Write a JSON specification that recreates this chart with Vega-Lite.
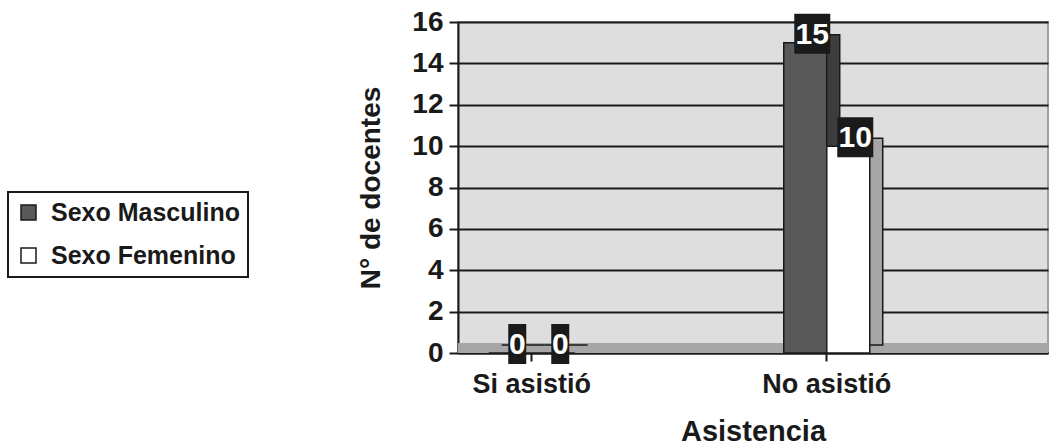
{
  "$schema": "https://vega.github.io/schema/vega-lite/v6.json",
  "width": 590,
  "height": 331,
  "autosize": {"type": "none"},
  "padding": {"left": 458, "top": 22, "right": 4, "bottom": 94},
  "background": "white",
  "config": {
    "font": "Liberation Sans",
    "view": {"fill": "#dedede", "stroke": "#a0a0a0", "strokeWidth": 2},
    "axis": {"labelFontWeight": "bold", "titleFontWeight": "bold", "labelColor": "#1a1a1a", "titleColor": "#1a1a1a", "domainColor": "#1a1a1a", "tickColor": "#1a1a1a", "domainWidth": 2, "tickWidth": 2},
    "axisY": {"labelFontSize": 28, "titleFontSize": 28, "tickSize": 9, "labelPadding": 6, "titlePadding": 26, "gridColor": "#1a1a1a", "gridWidth": 2},
    "axisX": {"labelFontSize": 27, "titleFontSize": 29, "tickSize": 8, "labelPadding": 10, "titlePadding": 20, "labelAngle": 0, "grid": false, "tickOffset": 220},
    "legend": {"labelFontSize": 25, "labelFontWeight": "bold", "labelColor": "#1a1a1a", "labelLimit": 0, "symbolType": "square", "symbolSize": 225, "symbolStrokeColor": "#1a1a1a", "symbolStrokeWidth": 1.5, "strokeColor": "#1a1a1a", "strokeWidth": 2, "padding": 8, "rowPadding": 17, "labelOffset": 10, "fillColor": "white"}
  },
  "data": {"values": [
    {"asistencia": "Si asistió", "sexo": "Sexo Masculino", "n": 0},
    {"asistencia": "Si asistió", "sexo": "Sexo Femenino", "n": 0},
    {"asistencia": "No asistió", "sexo": "Sexo Masculino", "n": 15},
    {"asistencia": "No asistió", "sexo": "Sexo Femenino", "n": 10}
  ]},
  "layer": [
    {
      "mark": {"type": "rule", "color": "#a6a6a6", "strokeWidth": 10, "yOffset": -5},
      "encoding": {
        "y": {"datum": 0, "type": "quantitative", "scale": {"domain": [0, 16], "nice": false}, "title": "N° de docentes"}
      }
    },
    {
      "mark": {"type": "bar", "stroke": "#1a1a1a", "strokeWidth": 1.5, "yOffset": -8, "y2Offset": -8},
      "encoding": {
        "x": {"field": "asistencia", "type": "nominal", "sort": ["Si asistió", "No asistió"], "scale": {"paddingInner": 0.5, "paddingOuter": 0.25, "align": 0}, "title": "Asistencia"},
        "xOffset": {"field": "sexo", "type": "nominal", "sort": ["Sexo Masculino", "Sexo Femenino"], "scale": {"type": "band", "paddingInner": 0, "paddingOuter": 0.715, "align": 0.711}},
        "y": {"field": "n", "type": "quantitative", "scale": {"domain": [0, 16], "nice": false}, "title": "N° de docentes"},
        "fill": {"condition": {"test": "datum.sexo === 'Sexo Masculino'", "value": "#3d3d3d"}, "value": "#a6a6a6"}
      }
    },
    {
      "mark": {"type": "bar", "stroke": "#1a1a1a", "strokeWidth": 1.5},
      "encoding": {
        "x": {"field": "asistencia", "type": "nominal", "sort": ["Si asistió", "No asistió"], "scale": {"paddingInner": 0.5, "paddingOuter": 0.25, "align": 0}, "title": "Asistencia"},
        "xOffset": {"field": "sexo", "type": "nominal", "sort": ["Sexo Masculino", "Sexo Femenino"], "scale": {"type": "band", "paddingInner": 0, "paddingOuter": 0.715, "align": 0.5}},
        "y": {"field": "n", "type": "quantitative", "scale": {"domain": [0, 16], "nice": false}, "title": "N° de docentes", "axis": {"values": [0, 2, 4, 6, 8, 10, 12, 14, 16], "grid": true}},
        "color": {"field": "sexo", "type": "nominal", "scale": {"domain": ["Sexo Masculino", "Sexo Femenino"], "range": ["#595959", "#ffffff"]}, "legend": {"title": null, "orient": "none", "legendX": -450, "legendY": 170}}
      }
    },
    {
      "transform": [{"filter": "datum.n > 9"}],
      "mark": {"type": "point", "filled": true, "color": "#1a1a1a", "opacity": 1, "size": 400, "shape": "M-1.8,-2H1.8V2H-1.8Z", "yOffset": -9},
      "encoding": {
        "x": {"field": "asistencia", "type": "nominal", "sort": ["Si asistió", "No asistió"], "title": "Asistencia"},
        "xOffset": {"field": "sexo", "type": "nominal", "sort": ["Sexo Masculino", "Sexo Femenino"], "scale": {"type": "band", "paddingInner": 0, "paddingOuter": 0.715, "align": 0.614}},
        "y": {"field": "n", "type": "quantitative", "title": "N° de docentes"}
      }
    },
    {
      "transform": [{"filter": "datum.n <= 9"}],
      "mark": {"type": "point", "filled": true, "color": "#1a1a1a", "opacity": 1, "size": 400, "shape": "M-0.9,-2H0.9V2H-0.9Z", "yOffset": -9},
      "encoding": {
        "x": {"field": "asistencia", "type": "nominal", "sort": ["Si asistió", "No asistió"], "title": "Asistencia"},
        "xOffset": {"field": "sexo", "type": "nominal", "sort": ["Sexo Masculino", "Sexo Femenino"], "scale": {"type": "band", "paddingInner": 0, "paddingOuter": 0.715, "align": 0.614}},
        "y": {"field": "n", "type": "quantitative", "title": "N° de docentes"}
      }
    },
    {
      "mark": {"type": "text", "color": "white", "fontSize": 30, "fontWeight": "bold", "baseline": "middle", "align": "center", "dx": 7, "dy": -8},
      "encoding": {
        "x": {"field": "asistencia", "type": "nominal", "sort": ["Si asistió", "No asistió"], "title": "Asistencia"},
        "xOffset": {"field": "sexo", "type": "nominal", "sort": ["Sexo Masculino", "Sexo Femenino"], "scale": {"type": "band", "paddingInner": 0, "paddingOuter": 0.715, "align": 0.5}},
        "y": {"field": "n", "type": "quantitative", "title": "N° de docentes"},
        "text": {"field": "n", "type": "quantitative"}
      }
    }
  ],
  "resolve": {"scale": {"xOffset": "independent"}}
}
